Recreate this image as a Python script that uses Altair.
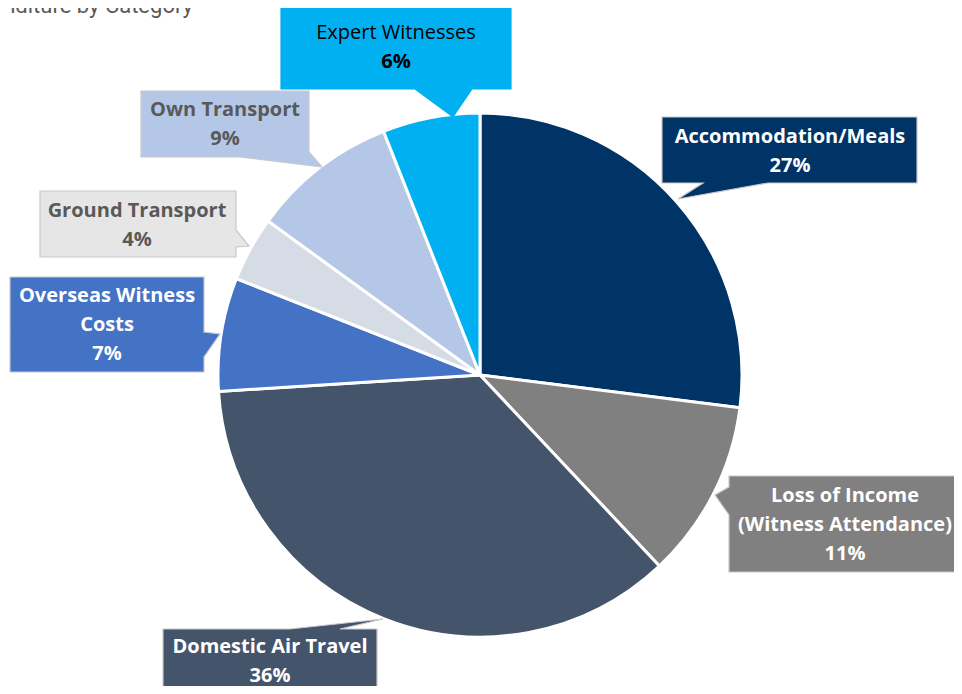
import altair as alt
import pandas as pd

# ---- data ----
categories = ["Accommodation/Meals", "Loss of Income (Witness Attendance)", "Domestic Air Travel",
              "Overseas Witness Costs", "Ground Transport", "Own Transport", "Expert Witnesses"]
shares = [27, 11, 36, 7, 4, 9, 6]
slice_colors = ["#003366", "#808080", "#44546A", "#4472C4", "#D6DCE5", "#B4C7E7", "#00B0F0"]

# label text lines per category
label_lines = [
    ["Accommodation/Meals"],
    ["Loss of Income", "(Witness Attendance)"],
    ["Domestic Air Travel"],
    ["Overseas Witness", "Costs"],
    ["Ground Transport"],
    ["Own Transport"],
    ["Expert Witnesses"],
]

# ---- layout (image pixel coordinates) ----
M = 8
W, H = 946, 678
CX, CY, R = 480, 375, 262
box_fill = ["#003366", "#808080", "#44546A", "#4472C4", "#E7E6E6", "#B4C7E7", "#00B0F0"]
text_color = ["white", "white", "white", "white", "#595959", "#595959", "black"]
name_bold = [True, True, True, True, True, True, False]
box_polys = [
    [(662, 117), (917, 117), (917, 183), (768, 183), (678, 199), (703, 183), (662, 183)],
    [(729, 476), (958, 476), (958, 572), (729, 572), (729, 515), (715, 495), (729, 487)],
    [(163, 629), (290, 629), (383, 619), (340, 629), (377, 629), (377, 700), (163, 700)],
    [(10, 277), (204, 277), (204, 332), (220, 334), (204, 357), (204, 372), (10, 372)],
    [(40, 191), (236, 191), (236, 230), (249, 246), (236, 247), (236, 257), (40, 257)],
    [(141, 91), (309, 91), (309, 152), (322, 167), (240, 157), (141, 157)],
    [(281, 6), (511, 6), (511, 89), (472, 89), (453, 117), (415, 89), (281, 89)],
]
text_cx = [790, 845, 270, 107, 137, 225, 396]
text_y0 = [137, 496, 647, 296, 211, 110, 33]
LINE = 29

FONT = "Open Sans"
FS = 20

# ---- pie ----
pie_df = pd.DataFrame({"cat": categories, "share": shares, "color": slice_colors,
                       "idx": list(range(len(categories)))})
pie = alt.Chart(pie_df).mark_arc(outerRadius=R, stroke="white", strokeWidth=3).encode(
    theta=alt.Theta("share:Q", stack=True),
    color=alt.Color("color:N", scale=None),
    order=alt.Order("idx:Q"),
    x=alt.value(CX - M),
    y=alt.value(CY - M),
)

# ---- callout boxes ----
def poly_path(pts):
    return "M" + "L".join(f"{x - M},{y - M}" for x, y in pts) + "Z"

box_df = pd.DataFrame({
    "path": [poly_path(p) for p in box_polys],
    "fill": box_fill,
    "stroke": ["#C9C9C9"] * 6 + ["#00B0F0"],
    "px": [0] * 7,
    "py": [0] * 7,
})
boxes = alt.Chart(box_df).mark_point(filled=True, opacity=1, size=4, strokeWidth=1.2).encode(
    x=alt.X("px:Q", scale=None, axis=None),
    y=alt.Y("py:Q", scale=None, axis=None),
    shape=alt.Shape("path:N", scale=None),
    fill=alt.Fill("fill:N", scale=None),
    stroke=alt.Stroke("stroke:N", scale=None),
)

# ---- label texts ----
rows = []
for i, lines in enumerate(label_lines):
    all_lines = lines + [f"{shares[i]}%"]
    for j, t in enumerate(all_lines):
        is_pct = j == len(all_lines) - 1
        rows.append({
            "t": t,
            "tx": text_cx[i] - M,
            "ty": text_y0[i] + j * LINE - M,
            "c": text_color[i],
            "bold": True if is_pct else name_bold[i],
        })
txt_df = pd.DataFrame(rows)

def text_layer(bold):
    return alt.Chart(txt_df).transform_filter(
        alt.datum.bold == bold
    ).mark_text(font=FONT, fontSize=FS, fontWeight="bold" if bold else "normal",
                align="center", baseline="middle").encode(
        x=alt.X("tx:Q", scale=None, axis=None),
        y=alt.Y("ty:Q", scale=None, axis=None),
        text="t:N",
        color=alt.Color("c:N", scale=None),
    )

title_df = pd.DataFrame({"t": ["Expenditure by Category"], "tx": [193 - M], "ty": [13 - M]})
title = alt.Chart(title_df).mark_text(font="Liberation Sans Narrow, Roboto", fontSize=22,
                                      color="#595959", align="right",
                                      baseline="alphabetic").encode(
    x=alt.X("tx:Q", scale=None, axis=None),
    y=alt.Y("ty:Q", scale=None, axis=None),
    text="t:N",
)

chart = alt.layer(pie, boxes, text_layer(True), text_layer(False), title).properties(
    width=W, height=H,
    autosize=alt.AutoSizeParams(type="none"),
    padding=0,
    background="white",
).configure_view(stroke=None)

chart.save("out.html", embed_options={"renderer": "svg", "actions": False})
